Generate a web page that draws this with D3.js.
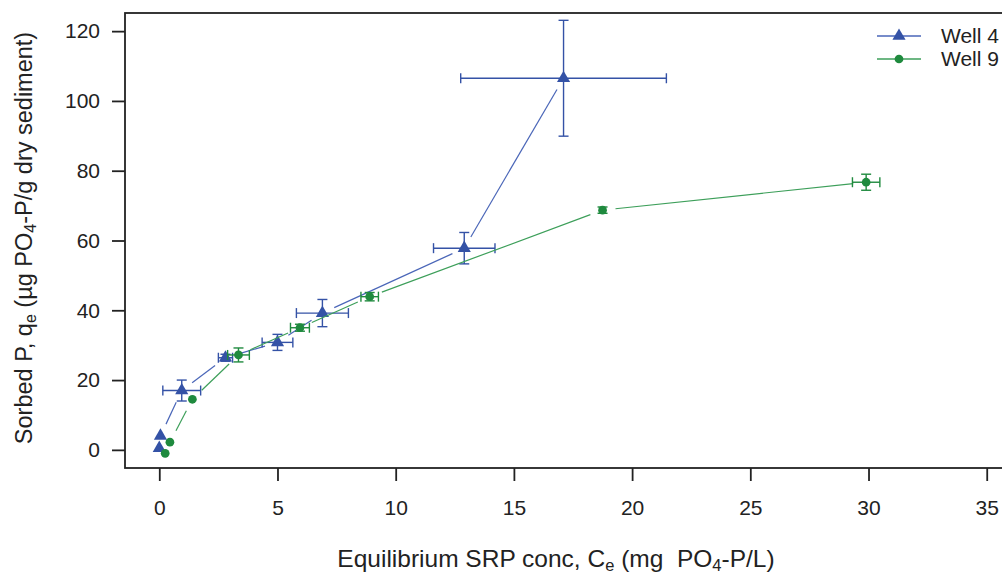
<!DOCTYPE html>
<html>
<head>
<meta charset="utf-8">
<script src="https://cdn.jsdelivr.net/npm/d3@7"></script>
<style>
  html, body { margin: 0; padding: 0; background: #fff; }
  svg { display: block; font-family: "Liberation Sans", Arial, sans-serif; }
  .title { white-space: pre; }
</style>
</head>
<body>
<svg id="chart" width="1002" height="576"></svg>
<script>
// Sorption isotherm data: equilibrium SRP (mg PO4-P/L) vs sorbed P (µg PO4-P/g)
const well4X    = [0.0, 0.05, 0.95, 2.8, 5.0, 6.9, 12.9, 17.1];
const well4Y    = [0.5, 4.0, 17.0, 26.4, 30.8, 39.2, 57.8, 106.5];
const well4XErr = [0, 0, 0.8, 0.3, 0.65, 1.1, 1.3, 4.35];
const well4YErr = [0, 0, 3.0, 1.0, 2.3, 3.9, 4.5, 16.6];

const well9X    = [0.25, 0.45, 1.4, 3.35, 5.95, 8.9, 18.75, 29.9];
const well9Y    = [-1.0, 2.2, 14.5, 27.2, 35.0, 43.9, 68.7, 76.7];
const well9XErr = [0, 0, 0, 0.46, 0.4, 0.37, 0, 0.58];
const well9YErr = [0, 0, 0, 2.0, 1.0, 1.2, 0.9, 2.3];

const xTicks = [0, 5, 10, 15, 20, 25, 30, 35];
const yTicks = [0, 20, 40, 60, 80, 100, 120];

const seriesNames = ["Well 4", "Well 9"];

const svg = d3.select("#chart");
const plotLeft = 125, plotRight = 1021, plotTop = 13, plotBottom = 468;

const x = d3.scaleLinear().domain([-1.45, 36.45]).range([plotLeft, plotRight]);
const y = d3.scaleLinear().domain([-5.2, 125.2]).range([plotBottom, plotTop]);

const axisColor = "#222";
const fontSize = 21;

// Plot frame
svg.append("rect")
  .attr("x", plotLeft).attr("y", plotTop)
  .attr("width", plotRight - plotLeft).attr("height", plotBottom - plotTop)
  .attr("fill", "none").attr("stroke", axisColor).attr("stroke-width", 1.8);

// Axes
const xAxis = d3.axisBottom(x).tickValues(xTicks).tickSize(13).tickPadding(19).tickFormat(d3.format("d"));
const gx = svg.append("g").attr("transform", `translate(0,${plotBottom})`).call(xAxis);
gx.select(".domain").remove();
gx.selectAll(".tick line").attr("stroke", axisColor).attr("stroke-width", 1.8);
gx.selectAll(".tick text").attr("fill", axisColor).attr("font-size", fontSize)
  .attr("font-family", "Liberation Sans, Arial, sans-serif");

const yAxis = d3.axisLeft(y).tickValues(yTicks).tickSize(13).tickPadding(12).tickFormat(d3.format("d"));
const gy = svg.append("g").attr("transform", `translate(${plotLeft},0)`).call(yAxis);
gy.select(".domain").remove();
gy.selectAll(".tick line").attr("stroke", axisColor).attr("stroke-width", 1.8);
gy.selectAll(".tick text").attr("fill", axisColor).attr("font-size", fontSize)
  .attr("font-family", "Liberation Sans, Arial, sans-serif");

// Axis titles with subscripts
const xt = svg.append("text").attr("class", "title")
  .attr("x", 556).attr("y", 567)
  .attr("text-anchor", "middle").attr("font-size", 24.5).attr("fill", axisColor);
xt.append("tspan").text("Equilibrium SRP conc, C");
xt.append("tspan").attr("font-size", 16.5).attr("dy", 4).text("e");
xt.append("tspan").attr("dy", -4).text(" (mg  PO");
xt.append("tspan").attr("font-size", 16.5).attr("dy", 4).text("4");
xt.append("tspan").attr("dy", -4).text("-P/L)");

const yt = svg.append("text").attr("class", "title")
  .attr("transform", "translate(32,238) rotate(-90)")
  .attr("text-anchor", "middle").attr("font-size", 23.5).attr("fill", axisColor);
yt.append("tspan").text("Sorbed P, q");
yt.append("tspan").attr("font-size", 16).attr("dy", 4).text("e");
yt.append("tspan").attr("dy", -4).text(" (\u00b5g PO");
yt.append("tspan").attr("font-size", 16).attr("dy", 4).text("4");
yt.append("tspan").attr("dy", -4).text("-P/g dry sediment)");

const series = [
  { name: seriesNames[0], xs: well4X, ys: well4Y, xe: well4XErr, ye: well4YErr,
    mark: "#3452a6", line: "#4a66b8", shape: d3.symbolTriangle, size: 75 },
  { name: seriesNames[1], xs: well9X, ys: well9Y, xe: well9XErr, ye: well9YErr,
    mark: "#1f8a3e", line: "#3d9f5a", shape: d3.symbolCircle, size: 60 }
];

const gap = 13; // space left between a connecting line and each marker
const cap = 5;

series.forEach(s => {
  const pts = s.xs.map((v, i) => ({ px: x(v), py: y(s.ys[i]), i }));
  const g = svg.append("g");

  // Connecting segments, broken around the markers
  for (let k = 0; k < pts.length - 1; k++) {
    const a = pts[k], b = pts[k + 1];
    const dx = b.px - a.px, dy = b.py - a.py;
    const len = Math.hypot(dx, dy);
    if (len <= 2 * gap) continue;
    const ux = dx / len, uy = dy / len;
    g.append("line")
      .attr("x1", a.px + ux * gap).attr("y1", a.py + uy * gap)
      .attr("x2", b.px - ux * gap).attr("y2", b.py - uy * gap)
      .attr("stroke", s.line).attr("stroke-width", 1.2);
  }

  // Error bars
  pts.forEach(p => {
    const xe = s.xe[p.i], ye = s.ye[p.i];
    const xv = s.xs[p.i], yv = s.ys[p.i];
    if (xe > 0) {
      const x0 = x(xv - xe), x1 = x(xv + xe);
      g.append("line").attr("x1", x0).attr("x2", x1).attr("y1", p.py).attr("y2", p.py)
        .attr("stroke", s.mark).attr("stroke-width", 1.4);
      [x0, x1].forEach(xx => g.append("line").attr("x1", xx).attr("x2", xx)
        .attr("y1", p.py - cap).attr("y2", p.py + cap)
        .attr("stroke", s.mark).attr("stroke-width", 1.4));
    }
    if (ye > 0) {
      const y0 = y(yv - ye), y1 = y(yv + ye);
      g.append("line").attr("x1", p.px).attr("x2", p.px).attr("y1", y0).attr("y2", y1)
        .attr("stroke", s.mark).attr("stroke-width", 1.4);
      [y0, y1].forEach(yy => g.append("line").attr("x1", p.px - cap).attr("x2", p.px + cap)
        .attr("y1", yy).attr("y2", yy)
        .attr("stroke", s.mark).attr("stroke-width", 1.4));
    }
  });

  // Markers
  g.selectAll("path.mk").data(pts).join("path").attr("class", "mk")
    .attr("transform", d => `translate(${d.px},${d.py})`)
    .attr("d", d3.symbol().type(s.shape).size(s.size))
    .attr("fill", s.mark);
});

// Legend
const legend = svg.append("g");
series.forEach((s, i) => {
  const ly = 36 + i * 23;
  legend.append("line").attr("x1", 877).attr("x2", 921).attr("y1", ly).attr("y2", ly)
    .attr("stroke", s.line).attr("stroke-width", 1.3);
  legend.append("path").attr("transform", `translate(899,${ly})`)
    .attr("d", d3.symbol().type(s.shape).size(s.size)).attr("fill", s.mark);
  legend.append("text").attr("x", 941).attr("y", ly + 7)
    .attr("font-size", fontSize).attr("fill", axisColor).text(s.name);
});
</script>
</body>
</html>
